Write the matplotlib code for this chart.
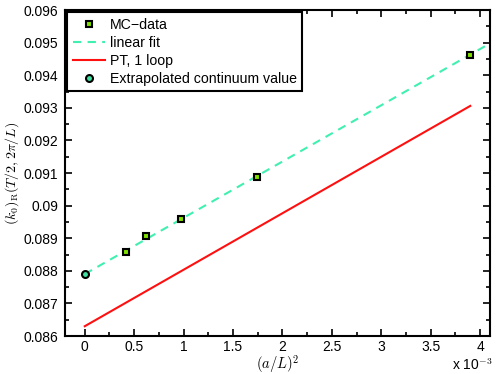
import matplotlib
matplotlib.use('Agg')
import matplotlib.pyplot as plt
from matplotlib.ticker import MultipleLocator, FuncFormatter

plt.rcParams['font.family'] = ['Liberation Sans', 'DejaVu Sans']
plt.rcParams['mathtext.fontset'] = 'cm'

# MC data
mc_x = [0.00042, 0.00062, 0.000975, 0.00174, 0.0039]
mc_y = [0.08858, 0.08906, 0.08958, 0.09089, 0.09463]

# linear fit endpoints
fit_x = [0.0, 0.0041]
fit_y = [0.08790, 0.09498]

# one loop perturbation theory
pt_x = [0.0, 0.0039]
pt_y = [0.08630, 0.09306]

# extrapolated continuum value
ext_x = [0.0]
ext_y = [0.08790]

fig = plt.figure(figsize=(4.98, 3.74), dpi=100)
ax = fig.add_axes([0.1305, 0.1016, 0.8535, 0.8714])

ax.plot(mc_x, mc_y, 's', color='#80e000', mec='black', mew=1.5, ms=4.5,
        label='MC\u2212data', zorder=4)
ax.plot(fit_x, fit_y, '--', color='#40f0b0', lw=1.5, dashes=(4, 3),
        label='linear fit')
ax.plot(pt_x, pt_y, '-', color='#ff1010', lw=1.5, label='PT, 1 loop')
ax.plot(ext_x, ext_y, 'o', color='#40e0a0', mec='black', mew=1.5, ms=5,
        label='Extrapolated continuum value', zorder=4)

ax.set_xlim(-0.0002, 0.0041)
ax.set_ylim(0.086, 0.096)
ax.xaxis.set_major_locator(MultipleLocator(0.0005))
ax.xaxis.set_minor_locator(MultipleLocator(0.00025))
ax.yaxis.set_major_locator(MultipleLocator(0.001))
ax.yaxis.set_minor_locator(MultipleLocator(0.0005))
ax.xaxis.set_major_formatter(FuncFormatter(lambda v, p: f'{v * 1000:g}'))
ax.yaxis.set_major_formatter(FuncFormatter(lambda v, p: f'{v:g}'))

ax.tick_params(which='both', direction='in', top=True, right=True,
               labelsize=10, width=1.2)
ax.tick_params(which='major', length=5, pad=5)
ax.tick_params(axis='x', which='major', pad=3)
ax.tick_params(which='minor', length=3)
for s in ax.spines.values():
    s.set_linewidth(1.5)

ax.set_xlabel(r'$(a/L)^2$', fontsize=10.5, labelpad=-1)
ax.set_ylabel(r'$(k_0)_{\mathrm{R}}(T/2,2\pi/L)$', fontsize=10, labelpad=2)
fig.text(0.99, 0.004, r'x 10$^{-3}$', ha='right', va='bottom', fontsize=10)

leg = ax.legend(loc='upper left', fontsize=10.2, fancybox=False,
                edgecolor='black', framealpha=1, borderaxespad=0.15,
                handlelength=2.3, handletextpad=0.3, labelspacing=0.28,
                borderpad=0.4)
leg.get_frame().set_linewidth(1.5)

fig.savefig('out.png', dpi=100)
